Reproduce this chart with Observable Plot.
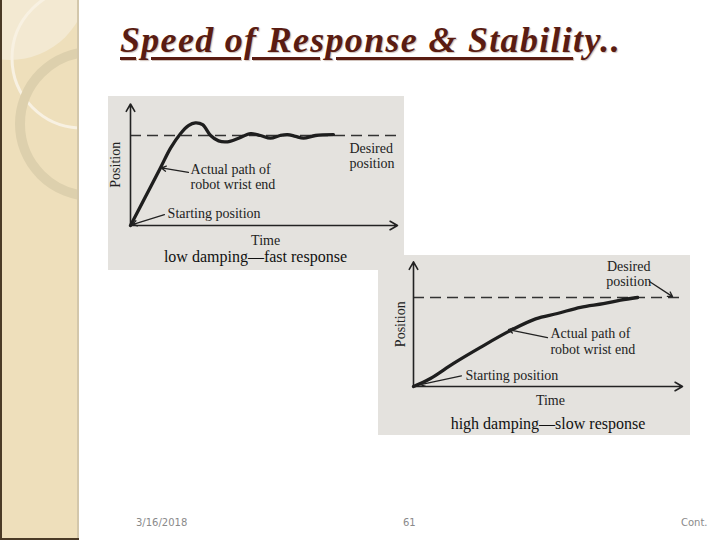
<!DOCTYPE html>
<html>
<head>
<meta charset="utf-8">
<script src="https://cdn.jsdelivr.net/npm/d3@7"></script>
<script src="https://cdn.jsdelivr.net/npm/@observablehq/plot@0.6"></script>
<style>
  html, body { margin: 0; padding: 0; background: #fff; }
  #slide { position: relative; width: 720px; height: 540px; overflow: hidden; background: #fff; }
  #strip { position: absolute; left: 0; top: 0; }
  #title { position: absolute; left: 120px; top: 19px; font-family: "Liberation Serif", serif; font-weight: bold; font-style: italic; font-size: 36px; color: #5a1c12; letter-spacing: 1.3px; white-space: nowrap; text-shadow: 1px 1px 1px rgba(120,80,60,0.35); }
  #title .u { text-decoration: underline; text-decoration-thickness: 3px; text-underline-offset: 5px; }
  .foot { position: absolute; top: 517px; font-family: "DejaVu Sans", sans-serif; font-size: 10px; color: #8a8a8a; }
  .fig { position: absolute; }
</style>
</head>
<body>
<div id="slide">
  <svg id="strip" width="80" height="540">
    <defs><clipPath id="cp"><rect x="0" y="0" width="78" height="540"/></clipPath></defs>
    <rect x="0" y="0" width="78" height="540" fill="#eedfbb"/>
    <g clip-path="url(#cp)">
      <circle cx="10" cy="-18" r="78" fill="#f3e9d2"/>
      <circle cx="82" cy="58" r="70" fill="none" stroke="#f8f1e2" stroke-width="3"/>
      <circle cx="92" cy="124" r="72" fill="none" stroke="#ddd0ad" stroke-width="10"/>
    </g>
    <rect x="0" y="0" width="2" height="540" fill="#4a3a26"/>
    <rect x="77" y="0" width="2" height="540" fill="#d3c7ab"/>
    <rect x="0" y="538" width="79" height="2" fill="#4a3a26"/>
  </svg>
  <div id="title"><span class="u">Speed of Response &amp; Stabili</span>ty..</div>
  <div id="fig1" class="fig" style="left:108px; top:96px;"></div>
  <div id="fig2" class="fig" style="left:378px; top:255px;"></div>
  <div class="foot" style="left:136px;">3/16/2018</div>
  <div class="foot" style="left:403px;">61</div>
  <div class="foot" style="left:681px;">Cont.</div>
</div>
<script>
// ---------- data: low damping (fast response) ----------
const fastTime = [0, 0.56, 1.12, 1.5, 1.87, 2.17, 2.43, 2.7, 3.0, 3.3, 3.63, 4.05, 4.5, 4.87, 5.24, 5.6, 5.88, 6.18, 6.48, 6.93, 7.6];
const fastPos  = [0, 0.32, 0.64, 0.86, 1.02, 1.11, 1.14, 1.12, 1.0, 0.94, 0.93, 0.97, 1.02, 1.0, 0.97, 1.0, 1.01, 0.99, 0.97, 1.0, 1.01];

// ---------- data: high damping (slow response) ----------
const slowTime = [0, 0.63, 1.49, 2.49, 3.61, 4.54, 5.35, 6.21, 7.06, 7.7, 8.33];
const slowPos  = [0, 0.09, 0.26, 0.44, 0.63, 0.76, 0.82, 0.89, 0.93, 0.97, 1.0];

const desiredLevel = 1;
const timeMax = 10;

// labels
const fastLabels = [
  {x: 8.2, y: 0.85, text: "Desired", anchor: "start"},
  {x: 8.2, y: 0.69, text: "position", anchor: "start"},
  {x: 2.25, y: 0.62, text: "Actual path of", anchor: "start"},
  {x: 2.25, y: 0.46, text: "robot wrist end", anchor: "start"},
  {x: 1.39, y: 0.13, text: "Starting position", anchor: "start"},
  {x: 5.06, y: -0.17, text: "Time", anchor: "middle"}
];
const fastCaption = {x: 4.68, y: -0.35, text: "low damping\u2014fast response"};
const fastPointers = [
  {x1: 2.17, y1: 0.59, x2: 1.16, y2: 0.64},
  {x1: 1.27, y1: 0.12, x2: 0.07, y2: 0.01}
];

const slowLabels = [
  {x: 8.0, y: 1.35, text: "Desired", anchor: "middle"},
  {x: 8.0, y: 1.18, text: "position", anchor: "middle"},
  {x: 5.09, y: 0.59, text: "Actual path of", anchor: "start"},
  {x: 5.09, y: 0.42, text: "robot wrist end", anchor: "start"},
  {x: 1.93, y: 0.12, text: "Starting position", anchor: "start"},
  {x: 5.09, y: -0.16, text: "Time", anchor: "middle"}
];
const slowCaption = {x: 5.0, y: -0.42, text: "high damping\u2014slow response"};
const slowPointers = [
  {x1: 8.77, y1: 1.18, x2: 9.63, y2: 1.01},
  {x1: 4.98, y1: 0.55, x2: 3.53, y2: 0.64},
  {x1: 1.78, y1: 0.12, x2: 0.26, y2: 0.02}
];

function diagram({time, pos, labels, caption, pointers, width, height, margins, yMax, posLabelX}) {
  const curve = time.map((t, i) => ({t, p: pos[i]}));
  const axes = [
    {x1: 0, y1: 0, x2: 0, y2: yMax},
    {x1: 0, y1: 0, x2: timeMax, y2: 0}
  ];
  return Plot.plot({
    width, height,
    ...margins,
    x: {domain: [0, timeMax], axis: null},
    y: {domain: [0, yMax], axis: null},
    style: {fontFamily: "Liberation Serif, serif", fontSize: "14px", background: "#e4e2de", color: "#222"},
    marks: [
      Plot.ruleY([desiredLevel], {x1: 0, x2: timeMax, stroke: "#333", strokeWidth: 1.4, strokeDasharray: "11,6"}),
      Plot.arrow(axes, {x1: "x1", y1: "y1", x2: "x2", y2: "y2", stroke: "#222", strokeWidth: 1.6, headLength: 8}),
      Plot.line(curve, {x: "t", y: "p", curve: "catmull-rom", stroke: "#1e1e1e", strokeWidth: 3.3}),
      Plot.arrow(pointers, {x1: "x1", y1: "y1", x2: "x2", y2: "y2", stroke: "#222", strokeWidth: 1.3, headLength: 6}),
      Plot.text(labels.filter(d => d.anchor === "start"), {x: "x", y: "y", text: "text", textAnchor: "start", fill: "#222", fontSize: 14}),
      Plot.text(labels.filter(d => d.anchor === "middle"), {x: "x", y: "y", text: "text", textAnchor: "middle", fill: "#222", fontSize: 14}),
      Plot.text([caption], {x: "x", y: "y", text: "text", fill: "#111", fontSize: 16}),
      Plot.text(["Position"], {x: posLabelX, y: yMax / 2, text: d => d, rotate: -90, fill: "#222", fontSize: 14})
    ]
  });
}

document.getElementById("fig1").append(diagram({
  time: fastTime, pos: fastPos, labels: fastLabels, caption: fastCaption, pointers: fastPointers,
  width: 296, height: 174,
  margins: {marginLeft: 22, marginRight: 7, marginTop: 7.5, marginBottom: 45},
  yMax: 1.35, posLabelX: -0.56
}));

document.getElementById("fig2").append(diagram({
  time: slowTime, pos: slowPos, labels: slowLabels, caption: slowCaption, pointers: slowPointers,
  width: 312, height: 180,
  margins: {marginLeft: 35, marginRight: 8, marginTop: 6.4, marginBottom: 49},
  yMax: 1.4, posLabelX: -0.48
}));
</script>
</body>
</html>
